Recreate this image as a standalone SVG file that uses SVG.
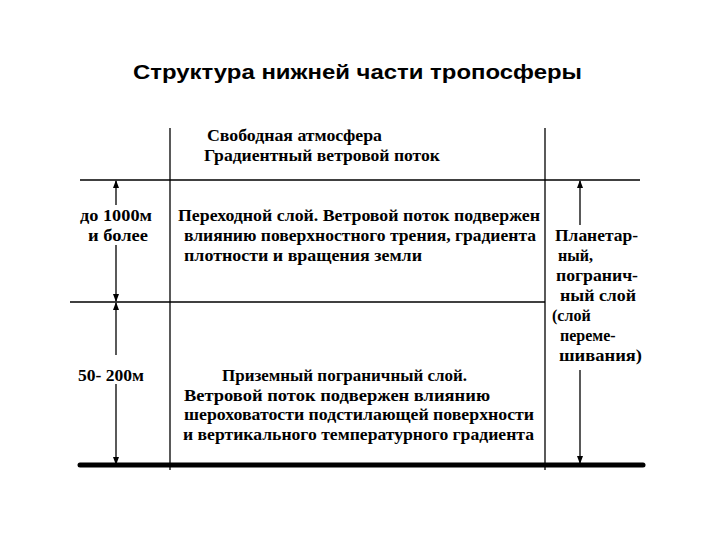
<svg xmlns="http://www.w3.org/2000/svg" width="720" height="540" viewBox="0 0 720 540">
<style>
.t{font-family:"Liberation Serif",serif;font-size:16px;font-weight:bold;fill:#000}
.h{font-family:"Liberation Sans",sans-serif;font-size:20px;font-weight:bold;fill:#000}
.l{stroke:#000;stroke-width:1.3;fill:none}
.a{stroke:#000;stroke-width:1.3;fill:none;marker-end:url(#ah)}
</style>
<defs><marker id="ah" markerWidth="8" markerHeight="8" refX="7" refY="4" orient="auto" markerUnits="userSpaceOnUse"><path d="M0,1 L8,4 L0,7 Z" fill="#000"/></marker></defs>
<rect width="720" height="540" fill="#fff"/>
<text class="h" x="133" y="79" textLength="449" lengthAdjust="spacingAndGlyphs">Структура нижней части тропосферы</text>
<g id="frame">
<line class="l" x1="170" y1="128" x2="170" y2="470"/>
<line class="l" x1="545" y1="128" x2="545" y2="470"/>
<line class="l" x1="80" y1="180" x2="640" y2="180" stroke-width="2"/>
<line class="l" x1="70" y1="302" x2="545" y2="302"/>
<line x1="80" y1="465" x2="643" y2="465" stroke="#000" stroke-width="5" stroke-linecap="round"/>
</g>
<g id="connectors">
<line class="a" x1="116" y1="205" x2="116" y2="181"/>
<line class="a" x1="116" y1="245" x2="116" y2="301"/>
<line class="a" x1="116" y1="355" x2="116" y2="303"/>
<line class="a" x1="116" y1="384" x2="116" y2="464"/>
<line class="a" x1="580" y1="225" x2="580" y2="181"/>
<line class="a" x1="580" y1="370" x2="580" y2="463"/>
</g>
<g id="free"><text class="t" x="207" y="141" textLength="175" lengthAdjust="spacingAndGlyphs">Свободная атмосфера</text><text class="t" x="204" y="161" textLength="236" lengthAdjust="spacingAndGlyphs">Градиентный ветровой поток</text></g>
<g id="trans"><text class="t" x="178" y="221" textLength="362" lengthAdjust="spacingAndGlyphs">Переходной слой.  Ветровой поток подвержен</text><text class="t" x="184" y="241" textLength="352" lengthAdjust="spacingAndGlyphs">влиянию поверхностного трения, градиента</text><text class="t" x="184" y="261" textLength="238" lengthAdjust="spacingAndGlyphs">плотности и вращения  земли</text></g>
<g id="h1"><text class="t" x="80" y="221" textLength="72" lengthAdjust="spacingAndGlyphs">до 1000м</text><text class="t" x="88" y="241" textLength="60" lengthAdjust="spacingAndGlyphs">и более</text></g>
<g id="h2"><text class="t" x="78" y="381" textLength="66" lengthAdjust="spacingAndGlyphs">50- 200м</text></g>
<g id="surf"><text class="t" x="222" y="381" textLength="245" lengthAdjust="spacingAndGlyphs">Приземный пограничный слой.</text><text class="t" x="184" y="401" textLength="306" lengthAdjust="spacingAndGlyphs">Ветровой поток подвержен влиянию</text><text class="t" x="184" y="420" textLength="350" lengthAdjust="spacingAndGlyphs">шероховатости подстилающей поверхности</text><text class="t" x="183" y="440" textLength="351" lengthAdjust="spacingAndGlyphs">и вертикального температурного градиента</text></g>
<g id="pbl"><text class="t" x="555" y="241" textLength="83" lengthAdjust="spacingAndGlyphs">Планетар-</text><text class="t" x="558" y="261">ный,</text><text class="t" x="556" y="281" textLength="82" lengthAdjust="spacingAndGlyphs">погранич-</text><text class="t" x="560" y="301" textLength="76" lengthAdjust="spacingAndGlyphs">ный слой</text><text class="t" x="552" y="321">(слой</text><text class="t" x="560" y="341">переме-</text><text class="t" x="559" y="361" textLength="83" lengthAdjust="spacingAndGlyphs">шивания)</text></g>
</svg>
